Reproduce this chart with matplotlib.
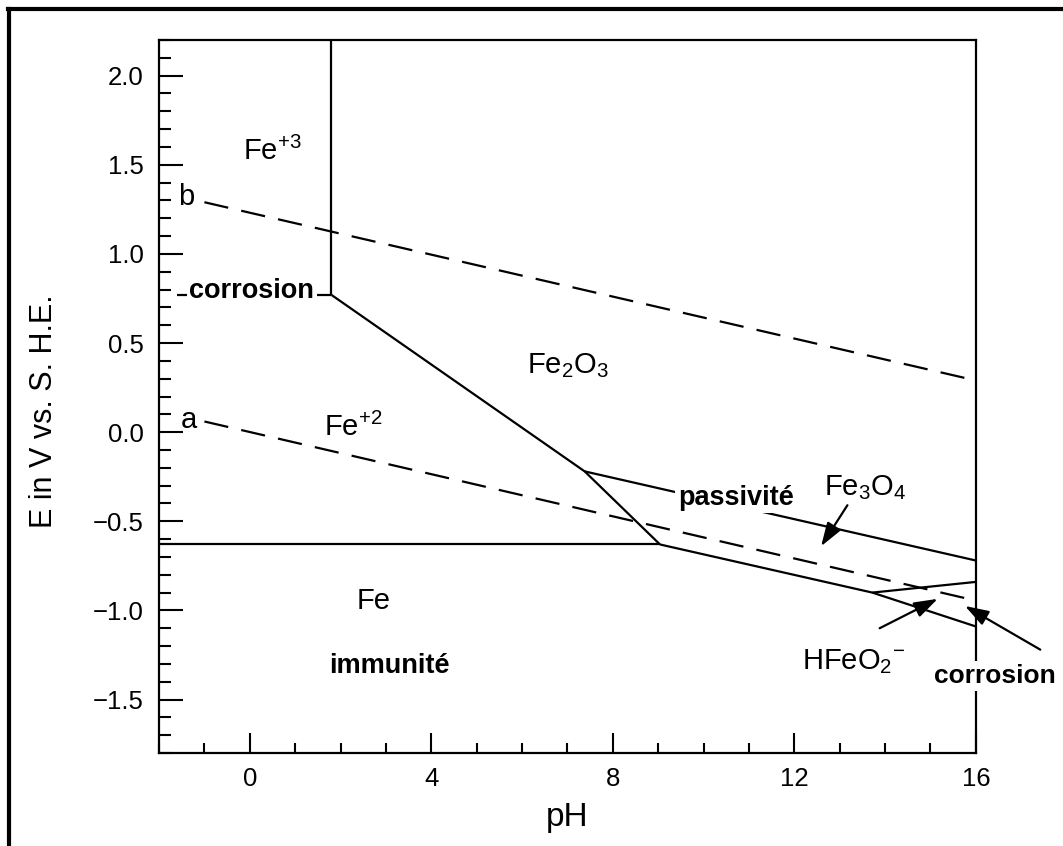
import matplotlib
matplotlib.use("Agg")
import matplotlib.pyplot as plt
from matplotlib.lines import Line2D
from matplotlib.ticker import MultipleLocator

# ==========================================
# Police
# ==========================================
plt.rcParams['font.family'] = ['Liberation Sans', 'DejaVu Sans']
plt.rcParams['mathtext.fontset'] = 'custom'
plt.rcParams['mathtext.rm'] = 'Liberation Sans'
plt.rcParams['mathtext.it'] = 'Liberation Sans:italic'
plt.rcParams['mathtext.bf'] = 'Liberation Sans:bold'

# ==========================================
# Donnees (pH, E en V) lues sur le diagramme
# ==========================================
# frontieres en trait plein
ph_fe3_fe2o3 = [1.8, 1.8]
e_fe3_fe2o3 = [2.2, 0.77]

ph_fe3_fe2 = [-1.6, 1.8]
e_fe3_fe2 = [0.77, 0.77]

ph_fe2_fe2o3 = [1.8, 7.38, 9.04]
e_fe2_fe2o3 = [0.77, -0.22, -0.63]

ph_fe_fe2 = [-2.0, 9.04]
e_fe_fe2 = [-0.63, -0.63]

ph_fe2o3_fe3o4 = [7.38, 16.0]
e_fe2o3_fe3o4 = [-0.22, -0.72]

ph_fe_bas = [9.04, 13.72, 16.0]
e_fe_bas = [-0.63, -0.90, -1.09]

ph_fe3o4_hfeo2 = [13.72, 16.0]
e_fe3o4_hfeo2 = [-0.90, -0.84]

# droites de l'eau (tirets)
ph_a = [-1.0, 16.0]
e_a = [0.06, -0.945]
ph_b = [-1.0, 16.0]
e_b = [1.29, 0.29]

# fleches : (queue, pointe)
fleche_fe3o4 = [(13.17, -0.41), (12.59, -0.64)]
fleche_hfeo2 = [(13.88, -1.10), (15.16, -0.935)]
fleche_corrosion = [(17.42, -1.22), (15.76, -0.975)]

# axes
xtick_vals = [0, 4, 8, 12, 16]
xtick_labels = ['0', '4', '8', '12', '16']
ytick_vals = [-1.5, -1.0, -0.5, 0.0, 0.5, 1.0, 1.5, 2.0]
ytick_labels = ['\u22121.5', '\u22121.0', '\u22120.5', '0.0', '0.5', '1.0', '1.5', '2.0']

# ==========================================
# Figure
# ==========================================
fig = plt.figure(figsize=(10.63, 8.46), dpi=100)
ax = fig.add_axes([0.1496, 0.1099, 0.918 - 0.1496, 0.9527 - 0.1099])

lw = 1.6
for xs, ys in [(ph_fe3_fe2o3, e_fe3_fe2o3), (ph_fe3_fe2, e_fe3_fe2),
               (ph_fe2_fe2o3, e_fe2_fe2o3), (ph_fe_fe2, e_fe_fe2),
               (ph_fe2o3_fe3o4, e_fe2o3_fe3o4), (ph_fe_bas, e_fe_bas),
               (ph_fe3o4_hfeo2, e_fe3o4_hfeo2)]:
    ax.plot(xs, ys, color='black', lw=lw, solid_capstyle='butt', zorder=2)

ax.plot(ph_a, e_a, color='black', lw=lw, dashes=(11, 6), zorder=2)
ax.plot(ph_b, e_b, color='black', lw=lw, dashes=(11, 6), zorder=2)

# fleches
for tail, head in [fleche_fe3o4, fleche_hfeo2, fleche_corrosion]:
    ax.annotate('', xy=head, xytext=tail, annotation_clip=False,
                arrowprops=dict(arrowstyle='-|>,head_length=0.6,head_width=0.2',
                                mutation_scale=24, color='black', lw=1.6,
                                shrinkA=0, shrinkB=0))

# ==========================================
# Textes
# ==========================================
blanc = dict(facecolor='white', edgecolor='none', pad=2)
fs_chim = 21
fs_gras = 19.5

ax.text(-0.16, 1.526, r'Fe$^{+3}$', fontsize=fs_chim, ha='left', va='baseline')
ax.text(1.64, -0.019, r'Fe$^{+2}$', fontsize=fs_chim, ha='left', va='baseline')
ax.text(6.12, 0.329, r'Fe$_2$O$_3$', fontsize=fs_chim, ha='left', va='baseline')
ax.text(12.66, -0.356, r'Fe$_3$O$_4$', fontsize=fs_chim, ha='left', va='baseline')
ax.text(2.35, -0.99, 'Fe', fontsize=fs_chim, ha='left', va='baseline')
ax.text(12.17, -1.328, r'HFeO$_2$$^{-}$', fontsize=fs_chim, ha='left', va='baseline')
ax.text(-1.58, 1.273, 'b', fontsize=fs_chim, ha='left', va='baseline')
ax.text(-1.53, 0.026, 'a', fontsize=fs_chim, ha='left', va='baseline')

ax.text(9.44, -0.407, 'passivité', fontsize=fs_gras, fontweight='bold',
        ha='left', va='baseline', bbox=blanc, zorder=4)
ax.text(1.75, -1.35, 'immunité', fontsize=fs_gras, fontweight='bold',
        ha='left', va='baseline')
ax.text(-1.33, 0.75, 'corrosion', fontsize=fs_gras, fontweight='bold',
        ha='left', va='baseline', bbox=blanc, zorder=4)
ax.text(15.08, -1.407, 'corrosion', fontsize=19, fontweight='bold',
        ha='left', va='baseline', bbox=blanc, zorder=4, clip_on=False)

# ==========================================
# Axes
# ==========================================
ax.set_xlim(-2, 16)
ax.set_ylim(-1.8, 2.2)
ax.set_xticks(xtick_vals, labels=xtick_labels)
ax.set_yticks(ytick_vals, labels=ytick_labels)
ax.xaxis.set_minor_locator(MultipleLocator(1))
ax.yaxis.set_minor_locator(MultipleLocator(0.1))
ax.tick_params(axis='both', which='both', direction='in', width=1.5,
               top=False, right=False, labelsize=18.5, colors='black')
ax.tick_params(axis='x', which='major', length=14.5, pad=10)
ax.tick_params(axis='x', which='minor', length=7)
ax.tick_params(axis='y', which='major', length=17, pad=11)
ax.tick_params(axis='y', which='minor', length=8.5)
for sp in ax.spines.values():
    sp.set_linewidth(1.6)

ax.set_xlabel('pH', fontsize=24, labelpad=8)
ax.set_ylabel('E in V vs. S. H.E.', fontsize=22)
ax.yaxis.set_label_coords(-0.122, 0.48)

# cadre noir (haut et gauche)
fig.add_artist(Line2D([8 / 1063, 1.0], [1 - 9 / 846, 1 - 9 / 846],
                      transform=fig.transFigure, color='black', lw=3))
fig.add_artist(Line2D([9 / 1063, 9 / 1063], [0.0, 1 - 9 / 846],
                      transform=fig.transFigure, color='black', lw=3))

fig.savefig('out.png', dpi=100)
